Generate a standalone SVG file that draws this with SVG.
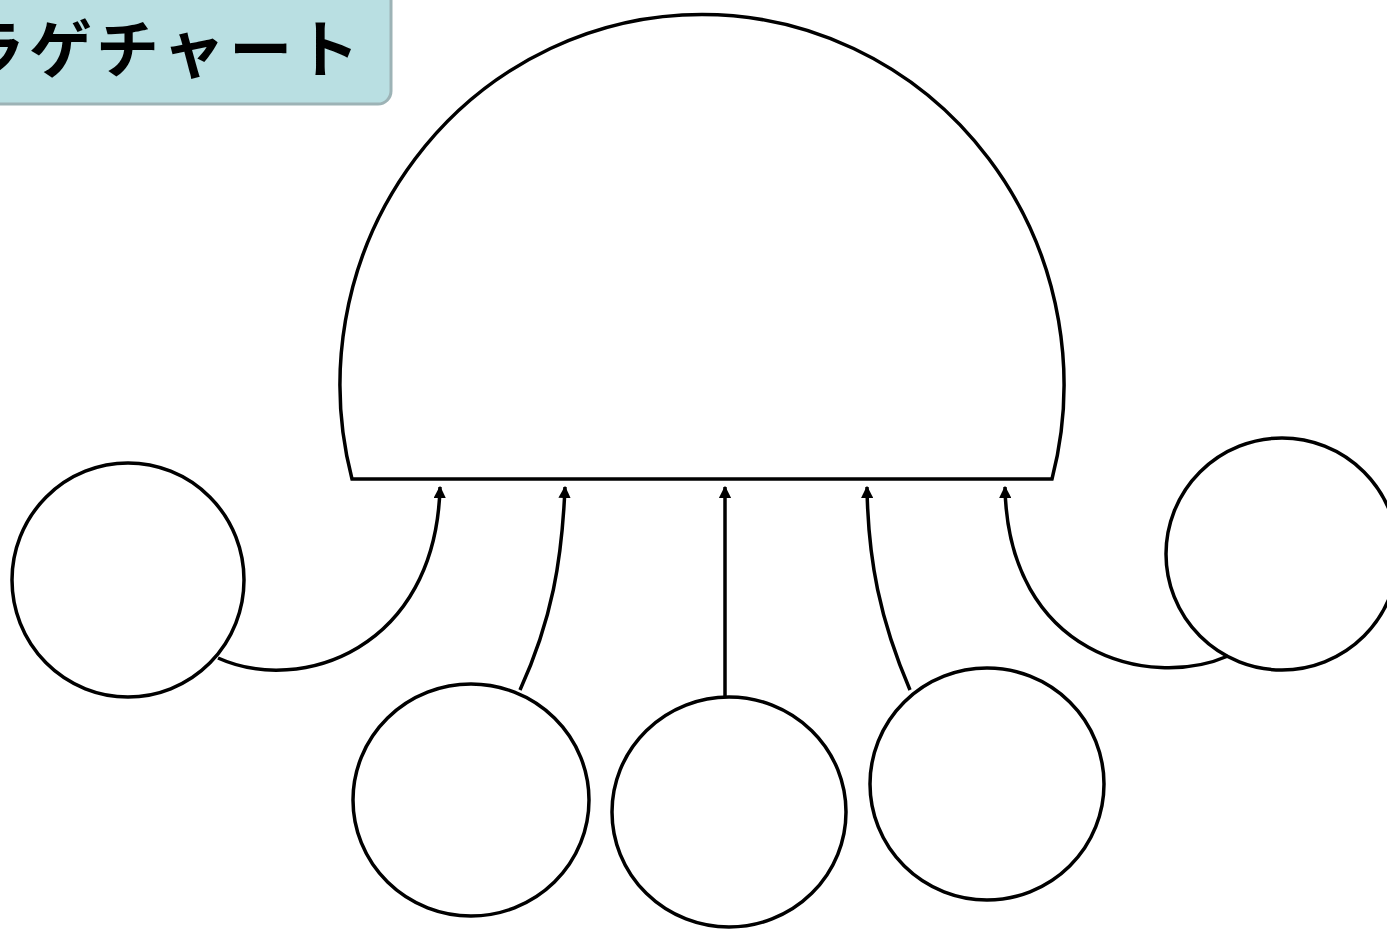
<svg xmlns="http://www.w3.org/2000/svg" width="1387" height="929" viewBox="0 0 1387 929">
<style>
.shape{fill:#fff;stroke:#000;stroke-width:3.5}
.conn{fill:none;stroke:#000;stroke-width:3.5}
.title{font-family:"Noto Sans CJK JP","Noto Sans CJK SC",sans-serif;font-size:63px;font-weight:bold;fill:#000}
</style>
<defs>
<marker id="arr" viewBox="0 0 10 10" refX="9" refY="5" markerWidth="3.5" markerHeight="3.5" orient="auto" markerUnits="strokeWidth">
<path d="M0,0 L10,5 L0,10 z" fill="#000"/>
</marker>
</defs>
<rect width="1387" height="929" fill="#fff"/>
<g id="title">
<rect x="-20" y="-20" width="411" height="124" rx="13" fill="#b9dfe2" stroke="#9db3b6" stroke-width="3"/>
<text class="title" x="-38" y="72" letter-spacing="4">ラゲチャート</text>
</g>
<g id="head">
<path class="shape" d="M352,479 A362,370 0 1 1 1052,479 Z"/>
</g>
<g id="c1"><ellipse class="shape" cx="128" cy="580" rx="116" ry="117"/></g>
<g id="c2"><ellipse class="shape" cx="471" cy="800" rx="118" ry="116"/></g>
<g id="c3"><ellipse class="shape" cx="729" cy="812" rx="117" ry="115"/></g>
<g id="c4"><ellipse class="shape" cx="987" cy="784" rx="117" ry="116"/></g>
<g id="c5"><ellipse class="shape" cx="1282" cy="554" rx="116" ry="116"/></g>
<g id="connectors">
<path class="conn" marker-end="url(#arr)" d="M218,658 C300,695 436,650 440,487"/>
<path class="conn" marker-end="url(#arr)" d="M520,690 C552,620 562,560 565,487"/>
<path class="conn" marker-end="url(#arr)" d="M725,697 L725,487"/>
<path class="conn" marker-end="url(#arr)" d="M910,690 C880,620 868,560 867,487"/>
<path class="conn" marker-end="url(#arr)" d="M1228,656 C1150,690 1008,655 1005,487"/>
</g>
</svg>
